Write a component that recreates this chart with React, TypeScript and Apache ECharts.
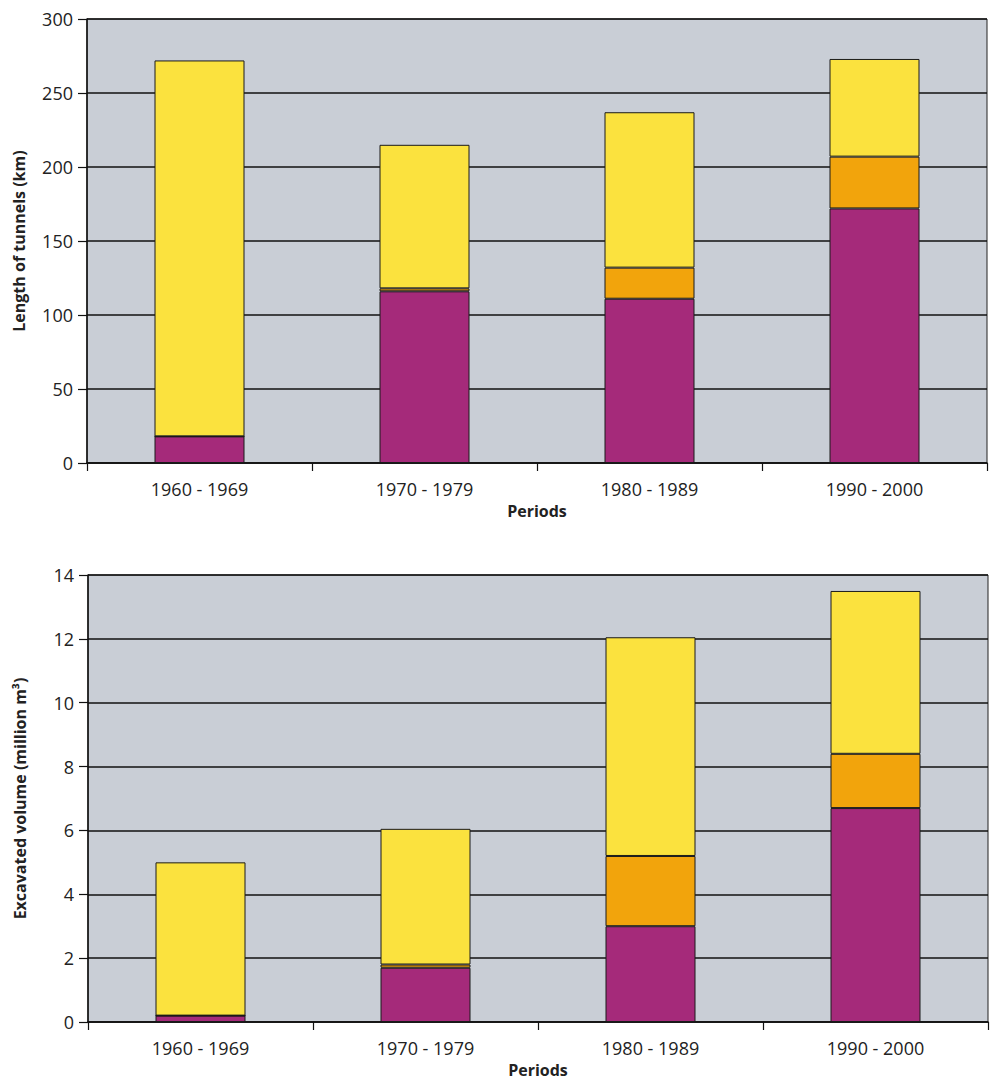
import React, { useEffect, useRef } from "react";
import * as echarts from "echarts";

const periods = ["1960 - 1969", "1970 - 1979", "1980 - 1989", "1990 - 2000"];

// Length of tunnels (km)
const lengthPurple = [18, 116, 111, 172];
const lengthOrange = [0, 2, 21, 35];
const lengthYellow = [254, 97, 105, 66];

// Excavated volume (million m³)
const volumePurple = [0.2, 1.7, 3.0, 6.7];
const volumeOrange = [0, 0.1, 2.2, 1.7];
const volumeYellow = [4.8, 4.25, 6.85, 5.1];

const PURPLE = "#a52a7a";
const ORANGE = "#f2a40c";
const YELLOW = "#fbe23e";
const BG = "#c9ced6";
const FONT = "Open Sans";

export default function App() {
  const ref = useRef<HTMLDivElement>(null);
  useEffect(() => {
    document.body.style.margin = "0";
    const chart = echarts.init(ref.current!, null, { renderer: "svg" });
    const xAxis = (gridIndex: number) => ({
      type: "category",
      gridIndex,
      data: periods,
      name: "Periods",
      nameLocation: "middle",
      nameGap: 40,
      nameTextStyle: { fontFamily: FONT, fontSize: 16, fontWeight: "bold", color: "#222" },
      axisLine: { show: true, lineStyle: { color: "#111", width: 1.5 } },
      axisTick: { show: true, length: 8, inside: false, lineStyle: { color: "#111", width: 1.2 } },
      axisLabel: { fontFamily: FONT, fontSize: 18, color: "#222", margin: 17 },
      splitLine: { show: false },
    });
    const yAxis = (gridIndex: number, max: number, interval: number, name: string) => ({
      type: "value",
      gridIndex,
      min: 0,
      max,
      interval,
      name,
      nameLocation: "middle",
      nameGap: 60,
      nameRotate: 90,
      nameTextStyle: { fontFamily: FONT, fontSize: 16, fontWeight: "bold", color: "#222" },
      axisLine: { show: true, lineStyle: { color: "#111", width: 1.5 } },
      axisTick: { show: true, length: 9, lineStyle: { color: "#111", width: 1.2 } },
      axisLabel: { fontFamily: FONT, fontSize: 18, color: "#222", margin: 14 },
      splitLine: { show: true, lineStyle: { color: "#111", width: 1.5 } },
    });
    const bar = (name: string, data: number[], color: string, idx: number, stack: string) => ({
      type: "bar",
      name,
      data,
      stack,
      xAxisIndex: idx,
      yAxisIndex: idx,
      barWidth: "40%",
      itemStyle: { color, borderColor: "#1a1a1a", borderWidth: 1 },
    });
    chart.setOption({
      animation: false,
      backgroundColor: "#ffffff",
      grid: [
        { left: 87, top: 19, width: 900, height: 444, show: true, backgroundColor: BG, borderColor: "#222", borderWidth: 1 },
        { left: 88, top: 575, width: 900, height: 447, show: true, backgroundColor: BG, borderColor: "#222", borderWidth: 1 },
      ],
      xAxis: [xAxis(0), xAxis(1)],
      yAxis: [
        yAxis(0, 300, 50, "Length of tunnels (km)"),
        yAxis(1, 14, 2, "Excavated volume (million m³)"),
      ],
      series: [
        bar("Purple", lengthPurple, PURPLE, 0, "len"),
        bar("Orange", lengthOrange, ORANGE, 0, "len"),
        bar("Yellow", lengthYellow, YELLOW, 0, "len"),
        bar("Purple", volumePurple, PURPLE, 1, "vol"),
        bar("Orange", volumeOrange, ORANGE, 1, "vol"),
        bar("Yellow", volumeYellow, YELLOW, 1, "vol"),
      ],
    });
    return () => chart.dispose();
  }, []);
  return <div ref={ref} style={{ width: 1000, height: 1086 }} />;
}
